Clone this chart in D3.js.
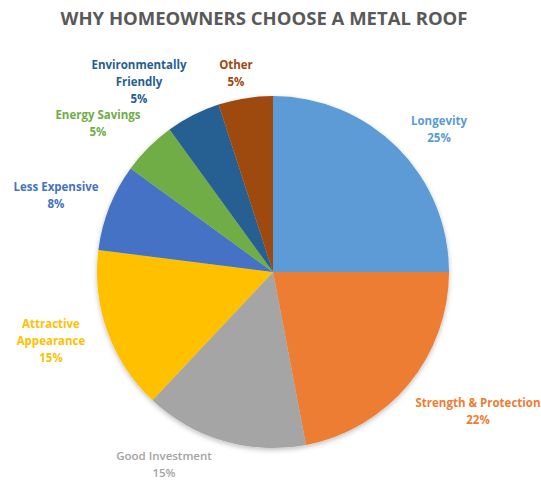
<!DOCTYPE html>
<html>
<head>
<meta charset="utf-8">
<script src="https://cdn.jsdelivr.net/npm/d3@7"></script>
<style>
  body { margin: 0; background: #fff; }
  text { font-family: "Open Sans", sans-serif; }
</style>
</head>
<body>
<div id="chart-area"></div>
<script>
// Chart data
let categories = ['Longevity', 'Strength & Protection', 'Good Investment', 'Attractive Appearance',
    'Less Expensive', 'Energy Savings', 'Environmentally Friendly', 'Other'];
let values = [25, 22, 15, 15, 8, 5, 5, 5];
let colors = ['#5b9bd5', '#ed7d31', '#a5a5a5', '#ffc000', '#4472c4', '#70ad47', '#255e91', '#9e480e'];

// Label lines and where they sit
let labelLines = [
    ['Longevity', '25%'],
    ['Strength & Protection', '22%'],
    ['Good Investment', '15%'],
    ['Attractive', 'Appearance', '15%'],
    ['Less Expensive', '8%'],
    ['Energy Savings', '5%'],
    ['Environmentally', 'Friendly', '5%'],
    ['Other', '5%']
];
let labelPos = [[439, 121], [478, 403], [164, 456], [51, 324], [56, 187], [98, 115], [139, 65], [236, 65]];

let svgWidth = 541, svgHeight = 481;
let cx = 273, cy = 272, radius = 176;

let svg = d3.select('#chart-area')
    .append('svg')
        .attr('width', svgWidth)
        .attr('height', svgHeight);

// Soft shadow like the office chart
let defs = svg.append('defs');
let filter = defs.append('filter').attr('id', 'shadow')
    .attr('x', '-10%').attr('y', '-10%').attr('width', '120%').attr('height', '125%');
filter.append('feDropShadow')
    .attr('dx', 0).attr('dy', 2).attr('stdDeviation', 2.5)
    .attr('flood-color', '#000').attr('flood-opacity', 0.25);

// Title
svg.append('text')
    .attr('x', 264)
    .attr('y', 25)
    .attr('text-anchor', 'middle')
    .attr('font-size', '18.5px')
    .attr('font-weight', 'bold')
    .attr('fill', '#595959')
    .text('WHY HOMEOWNERS CHOOSE A METAL ROOF');

let pie = d3.pie().sort(null).value(function(d) { return d; });
let arc = d3.arc().innerRadius(0).outerRadius(radius);

let g = svg.append('g')
    .attr('transform', 'translate(' + cx + ',' + cy + ')');

g.append('g')
    .attr('filter', 'url(#shadow)')
    .selectAll('path')
    .data(pie(values))
    .enter()
    .append('path')
        .attr('d', arc)
        .attr('fill', function(d, i) { return colors[i]; });

// Labels
labelLines.forEach(function(lines, i) {
    let t = svg.append('text')
        .attr('text-anchor', 'middle')
        .attr('font-size', '11.5px')
        .attr('font-weight', categories[i] == 'Good Investment' ? '600' : 'bold')
        .attr('fill', colors[i] == '#a5a5a5' ? '#a3a3a3' : colors[i]);
    lines.forEach(function(line, j) {
        t.append('tspan')
            .attr('x', labelPos[i][0])
            .attr('y', labelPos[i][1] + j * 16.8)
            .attr('dy', '0.35em')
            .text(line);
    });
});
</script>
</body>
</html>
